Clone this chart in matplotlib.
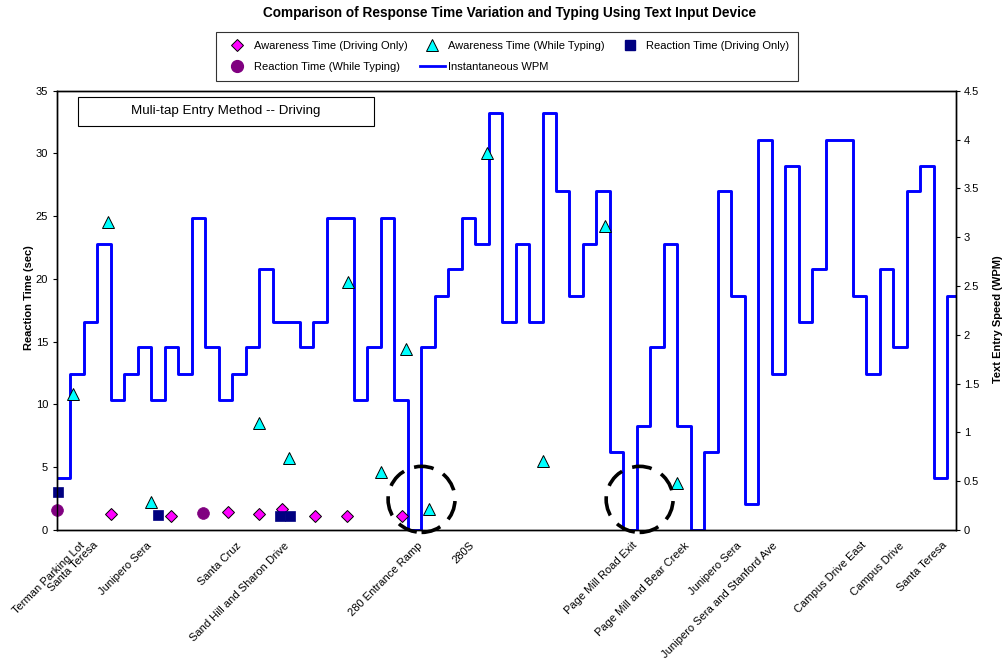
import numpy as np
import matplotlib
matplotlib.use("Agg")
import matplotlib.pyplot as plt
from matplotlib.lines import Line2D
from matplotlib.patches import Ellipse, Rectangle

plt.rcParams['font.family'] = ['Liberation Sans', 'DejaVu Sans']

# instantaneous WPM, one value per sample step
wpm = [0.53, 1.6, 2.13, 2.93, 1.33, 1.6, 1.87, 1.33, 1.87, 1.6, 3.2, 1.87, 1.33, 1.6, 1.87, 2.67,
       2.13, 2.13, 1.87, 2.13, 3.2, 3.2, 1.33, 1.87, 3.2, 1.33,
       0.0, 1.87, 2.4, 2.67, 3.2, 2.93, 4.27, 2.13, 2.93, 2.13, 4.27, 3.47, 2.4, 2.93, 3.47,
       0.8, 0.0, 1.07, 1.87, 2.93, 1.07, 0.0, 0.8, 3.47, 2.4,
       0.27, 4.0, 1.6, 3.73, 2.13, 2.67, 4.0, 4.0, 2.4, 1.6, 2.67, 1.87, 3.47, 3.73, 0.53, 2.4]
x_end = 66.66

# response times (sec), x in sample steps
aware_drive_x = [4.0, 8.45, 12.7, 15.0, 16.7, 19.1, 21.5, 25.6]
aware_drive_y = [1.27, 1.11, 1.41, 1.25, 1.64, 1.11, 1.11, 1.14]
aware_type_x = [1.21, 3.76, 6.97, 14.97, 17.22, 21.59, 24.02, 25.87, 27.6, 31.88, 36.0, 40.67, 45.94]
aware_type_y = [10.8, 24.5, 2.25, 8.5, 5.7, 19.75, 4.64, 14.45, 1.64, 30.0, 5.5, 24.26, 3.77]
react_drive_x = [0.05, 7.46, 16.57, 17.29]
react_drive_y = [3.05, 1.19, 1.14, 1.14]
react_type_x = [0.0, 10.8]
react_type_y = [1.59, 1.38]

# route landmarks
place_x = [1.95, 2.9, 6.85, 13.5, 17.1, 27.0, 30.8, 42.9, 46.8, 50.6, 53.3, 59.85, 62.7, 65.85]
place_names = ['Terman Parking Lot', 'Santa Teresa', 'Junipero Sera', 'Santa Cruz',
               'Sand Hill and Sharon Drive', '280 Entrance Ramp', '280S',
               'Page Mill Road Exit', 'Page Mill and Bear Creek', 'Junipero Sera',
               'Junipero Sera and Stanford Ave', 'Campus Drive East', 'Campus Drive',
               'Santa Teresa']

# highlighted drop-outs (centre x, centre y in sec)
drop_x = [27.03, 43.2]
drop_y = [2.44, 2.44]

fig = plt.figure(figsize=(10.06, 6.68), dpi=100)
ax1 = fig.add_axes([57 / 1006, 1 - 530 / 668, 899 / 1006, 439.3 / 668])
ax2 = ax1.twinx()

xs = list(range(len(wpm))) + [x_end]
ys = wpm + [wpm[-1]]
ax2.step(xs, ys, where='post', color='#0000FF', lw=2.1)

ax1.set_zorder(ax2.get_zorder() + 1)
ax1.patch.set_visible(False)

mk = dict(ls='none', clip_on=False)
ax1.plot(aware_drive_x, aware_drive_y, marker='D', ms=6.6, mfc='#FF00FF', mec='black', mew=0.7, **mk)
ax1.plot(aware_type_x, aware_type_y, marker='^', ms=8.5, mfc='#00FFFF', mec='black', mew=0.7, **mk)
ax1.plot(react_drive_x, react_drive_y, marker='s', ms=7.8, mfc='#000080', mec='#000080', mew=0.5, **mk)
ax1.plot(react_type_x, react_type_y, marker='o', ms=8.5, mfc='#800080', mec='#800080', mew=0.5, **mk)

for cx, cy in zip(drop_x, drop_y):
    ax1.add_patch(Ellipse((cx, cy), 4.96, 5.26, fill=False, ec='black', lw=2.6,
                          ls=(0, (5.5, 3.0)), clip_on=False, zorder=10))

ax1.set_xlim(0, x_end)
ax1.set_ylim(0, 35)
ax2.set_ylim(0, 4.5)
ax1.set_yticks(np.arange(0, 36, 5))
ax2.set_yticks(np.arange(0, 4.6, 0.5))
ax2.set_yticklabels(['0', '0.5', '1', '1.5', '2', '2.5', '3', '3.5', '4', '4.5'])

ax1.set_xticks(place_x)
ax1.set_xticklabels(place_names, rotation=45, ha='right', va='center', rotation_mode='anchor')
ax1.tick_params(axis='x', length=0, pad=10, labelsize=8)
ax1.tick_params(axis='y', direction='out', length=3, width=0.8, pad=3.5, labelsize=8)
ax2.tick_params(axis='y', direction='out', length=3, width=0.8, pad=2.5, labelsize=8)

for ax in (ax1, ax2):
    for s in ax.spines.values():
        s.set_linewidth(1.0)
        s.set_color('black')

fig.text(29 / 1006, 0.555, 'Reaction Time (sec)', rotation=90, ha='center', va='center',
         fontsize=8, fontweight='bold')
fig.text(998 / 1006, 0.522, 'Text Entry Speed (WPM)', rotation=90, ha='center', va='center',
         fontsize=8, fontweight='bold')

fig.text(510 / 1006, 1 - 13 / 668, 'Comparison of Response Time Variation and Typing Using Text Input Device',
         ha='center', va='center', fontsize=9.8, fontweight='bold')

# method label box
fig.patches.append(Rectangle((78 / 1006, 1 - 126 / 668), 296 / 1006, 29 / 668, transform=fig.transFigure,
                             fill=False, ec='black', lw=0.8, zorder=5))
fig.text(226 / 1006, 1 - 111 / 668, 'Muli-tap Entry Method -- Driving', ha='center', va='center', fontsize=9.6)

# legend, row-major order
h_ad = Line2D([], [], ls='none', marker='D', ms=6.6, mfc='#FF00FF', mec='black', mew=0.7)
h_at = Line2D([], [], ls='none', marker='^', ms=8.5, mfc='#00FFFF', mec='black', mew=0.7)
h_rd = Line2D([], [], ls='none', marker='s', ms=7.8, mfc='#000080', mec='#000080')
h_rt = Line2D([], [], ls='none', marker='o', ms=8.5, mfc='#800080', mec='#800080')
h_w = Line2D([], [], color='#0000FF', lw=2.0)
handles = [h_ad, h_rt, h_at, h_w, h_rd]
labels = ['Awareness Time (Driving Only)', 'Reaction Time (While Typing)',
          'Awareness Time (While Typing)', 'Instantaneous WPM', 'Reaction Time (Driving Only)']
leg = fig.legend(handles, labels, ncol=3, loc='center', bbox_to_anchor=(507 / 1006, 1 - 56.5 / 668),
                 fontsize=8, frameon=True, fancybox=False, edgecolor='black', borderpad=0.75,
                 handlelength=2.3, handletextpad=0.3, columnspacing=1.1, labelspacing=1.05)
leg.get_frame().set_linewidth(0.8)

fig.savefig('out.png', dpi=100)
